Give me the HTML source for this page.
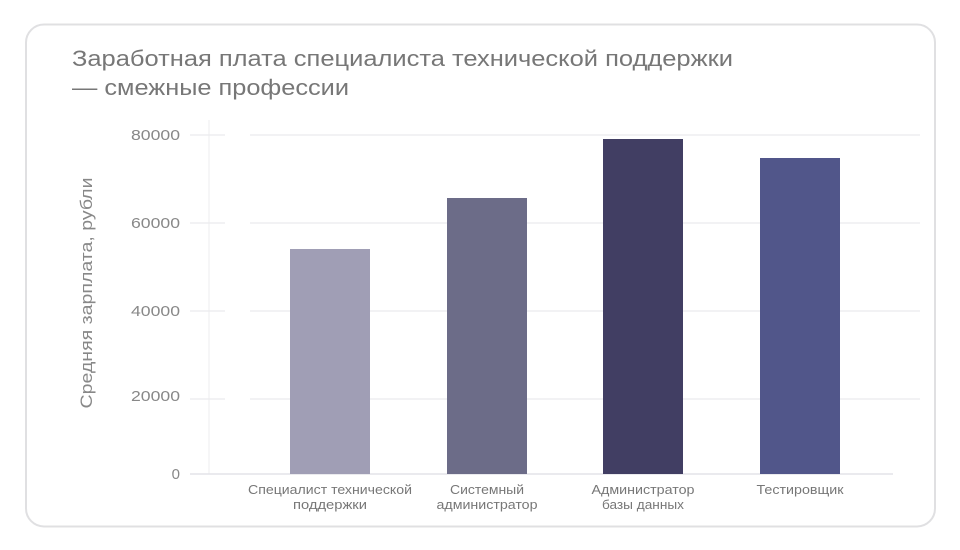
<!DOCTYPE html>
<html><head><meta charset="utf-8"><style>
html,body{margin:0;padding:0;background:#fff;}
svg{display:block;font-family:"Liberation Sans","Noto Sans CJK SC",sans-serif;}
</style></head><body>
<svg width="960" height="550" viewBox="0 0 960 550">
<rect x="26" y="24.5" width="909" height="502" rx="18" fill="#fff" stroke="#e0e0e2" stroke-width="2"/>
<text x="72" y="66" font-size="22" fill="#777" textLength="661" lengthAdjust="spacingAndGlyphs">Заработная плата специалиста технической поддержки</text>
<text x="72" y="95" font-size="22" fill="#777" textLength="277" lengthAdjust="spacingAndGlyphs">— смежные профессии</text>
<g stroke="#e4e4e8" stroke-width="1">
<line x1="190" y1="135" x2="225" y2="135"/><line x1="250" y1="135" x2="920" y2="135"/>
<line x1="190" y1="223" x2="225" y2="223"/><line x1="250" y1="223" x2="920" y2="223"/>
<line x1="190" y1="311" x2="225" y2="311"/><line x1="250" y1="311" x2="920" y2="311"/>
<line x1="190" y1="399" x2="225" y2="399"/><line x1="250" y1="399" x2="920" y2="399"/>
<line x1="209" y1="120" x2="209" y2="474" stroke="#ececef"/>
<line x1="190" y1="474" x2="893" y2="474" stroke-width="1.5"/>
</g>
<g font-size="15" fill="#888" text-anchor="end">
<text x="180" y="140" textLength="49" lengthAdjust="spacingAndGlyphs">80000</text>
<text x="180" y="228" textLength="49" lengthAdjust="spacingAndGlyphs">60000</text>
<text x="180" y="316" textLength="49" lengthAdjust="spacingAndGlyphs">40000</text>
<text x="180" y="401" textLength="49" lengthAdjust="spacingAndGlyphs">20000</text>
<text x="180" y="479">0</text>
</g>
<text transform="translate(92,293) rotate(-90)" font-size="17" fill="#888" text-anchor="middle" textLength="231" lengthAdjust="spacingAndGlyphs">Средняя зарплата, рубли</text>
<rect x="290" y="249" width="80" height="225" fill="#a09eb5"/>
<rect x="447" y="198" width="80" height="276" fill="#6c6c88"/>
<rect x="603" y="139" width="80" height="335" fill="#413e63"/>
<rect x="760" y="158" width="80" height="316" fill="#51568a"/>
<g font-size="13" fill="#777" text-anchor="middle">
<text x="330" y="494" textLength="164" lengthAdjust="spacingAndGlyphs">Специалист технической</text>
<text x="330" y="509" textLength="74" lengthAdjust="spacingAndGlyphs">поддержки</text>
<text x="487" y="494" textLength="74" lengthAdjust="spacingAndGlyphs">Системный</text>
<text x="487" y="509" textLength="101" lengthAdjust="spacingAndGlyphs">администратор</text>
<text x="643" y="494" textLength="103" lengthAdjust="spacingAndGlyphs">Администратор</text>
<text x="643" y="509" textLength="82" lengthAdjust="spacingAndGlyphs">базы данных</text>
<text x="800" y="494" textLength="87" lengthAdjust="spacingAndGlyphs">Тестировщик</text>
</g>
</svg>
</body></html>
